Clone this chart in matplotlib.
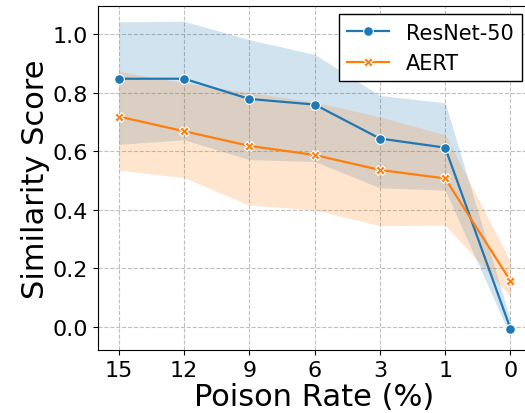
import numpy as np
import matplotlib.pyplot as plt

# Poison rates (categorical, evenly spaced on the x axis)
rates = ["15", "12", "9", "6", "3", "1", "0"]

# ResNet-50 mean and band
resnet_mean = [0.847, 0.847, 0.778, 0.759, 0.643, 0.612, -0.005]
resnet_upper = [1.041, 1.043, 0.980, 0.930, 0.790, 0.765, 0.025]
resnet_lower = [0.623, 0.639, 0.571, 0.565, 0.475, 0.467, -0.030]

# AERT mean and band
aert_mean = [0.718, 0.668, 0.618, 0.587, 0.536, 0.507, 0.158]
aert_upper = [0.872, 0.833, 0.800, 0.768, 0.717, 0.656, 0.224]
aert_lower = [0.535, 0.510, 0.416, 0.400, 0.346, 0.348, 0.105]

x = np.arange(len(rates))

fig = plt.figure(figsize=(5.25, 4.14), dpi=100)
ax = fig.add_axes([98 / 525, 63 / 414, 432 / 525, 344 / 414])

ax.fill_between(x, resnet_lower, resnet_upper, color="tab:blue", alpha=0.2, linewidth=0)
ax.fill_between(x, aert_lower, aert_upper, color="tab:orange", alpha=0.2, linewidth=0)
ax.plot(x, resnet_mean, color="tab:blue", marker="o", ms=7, mec="white", mew=0.8,
        lw=1.6, label="ResNet-50")
ax.plot(x, aert_mean, color="tab:orange", marker="X", ms=7, mec="white", mew=0.8,
        lw=1.6, label="AERT")

ax.set_xticks(x)
ax.set_xticklabels(rates)
ax.set_xlim(-0.32, 6.3)
ax.set_ylim(-0.078, 1.095)
ax.set_yticks([0.0, 0.2, 0.4, 0.6, 0.8, 1.0])
ax.tick_params(labelsize=16)
ax.set_xlabel("Poison Rate (%)", fontsize=22, labelpad=2)
ax.set_ylabel("Similarity Score", fontsize=22, labelpad=2)
ax.grid(True, linestyle="--", color="#b0b0b0", alpha=0.8)
ax.set_axisbelow(True)

leg = ax.legend(loc="upper right", fontsize=15, fancybox=False, edgecolor="black",
                framealpha=1, borderaxespad=0.4)
leg.get_frame().set_linewidth(1.0)

fig.savefig("out.png", dpi=100)
